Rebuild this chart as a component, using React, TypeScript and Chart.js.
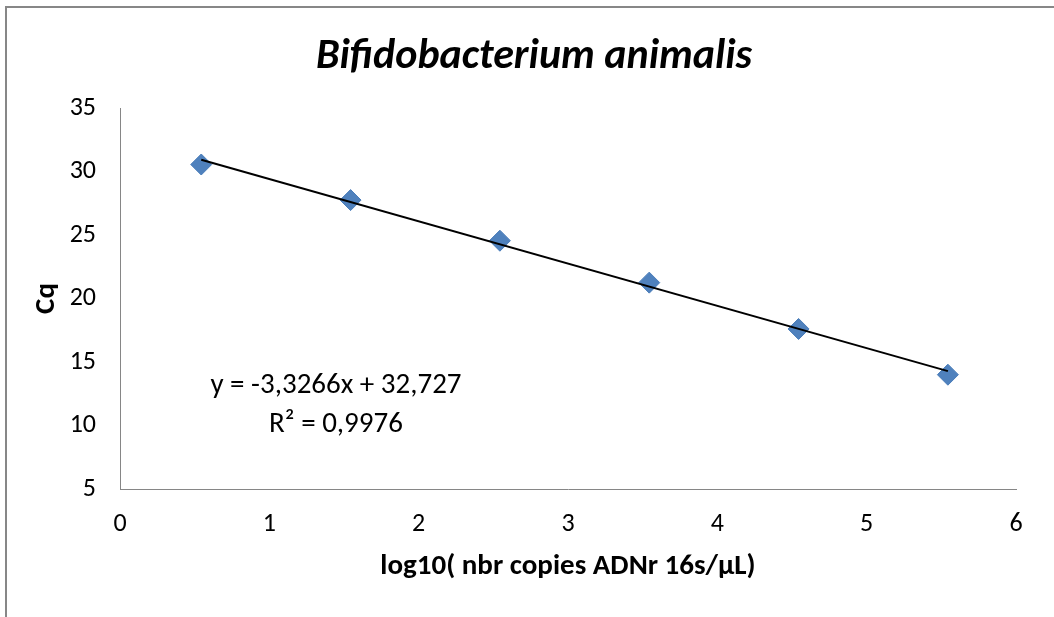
import React, { useEffect, useRef } from "react";
import { Chart, registerables } from "chart.js";

Chart.register(...registerables);

const CHART_TITLE = "Bifidobacterium animalis";
const X_TITLE = "log10( nbr copies ADNr 16s/µL)";
const Y_TITLE = "Cq";
const X_VALUES = [0.544, 1.544, 2.544, 3.544, 4.544, 5.544];
const CQ_VALUES = [30.55, 27.75, 24.55, 21.25, 17.6, 14.0];
const TREND_X = [0.544, 5.544];
const TREND_Y = [30.92, 14.28];
const EQUATION_LINES = ["y = -3,3266x + 32,727", "R² = 0,9976"];
const X_MIN = 0;
const X_MAX = 6;
const Y_MIN = 5;
const Y_MAX = 35;

const FONT = "Carlito, Lato, 'Open Sans', sans-serif";

const framePlugin = {
  id: "frame",
  beforeDraw(chart: any) {
    const ctx = chart.ctx;
    ctx.save();
    ctx.fillStyle = "#ffffff";
    ctx.fillRect(0, 0, chart.width, chart.height);
    ctx.strokeStyle = "#878787";
    ctx.lineWidth = 2;
    ctx.beginPath();
    ctx.moveTo(6, chart.height);
    ctx.lineTo(6, 7);
    ctx.lineTo(chart.width, 7);
    ctx.stroke();
    ctx.restore();
  },
  afterDraw(chart: any) {
    const ctx = chart.ctx;
    ctx.save();
    ctx.fillStyle = "#000000";
    ctx.textAlign = "center";
    ctx.textBaseline = "alphabetic";
    ctx.font = `italic bold 42px ${FONT}`;
    ctx.fillText(CHART_TITLE, 534, 68);
    ctx.font = `29px ${FONT}`;
    ctx.fillText(EQUATION_LINES[0], 336, 393);
    ctx.fillText(EQUATION_LINES[1], 336, 432);
    ctx.restore();
  },
};

export default function App() {
  const ref = useRef<HTMLCanvasElement | null>(null);
  useEffect(() => {
    if (!ref.current) return;
    const chart = new Chart(ref.current, {
      type: "scatter",
      data: {
        datasets: [
          {
            type: "line",
            label: "Trend",
            data: TREND_X.map((x, i) => ({ x, y: TREND_Y[i] })),
            borderColor: "#000000",
            borderWidth: 2,
            pointRadius: 0,
            showLine: true,
            fill: false,
          } as any,
          {
            label: "Cq",
            data: X_VALUES.map((x, i) => ({ x, y: CQ_VALUES[i] })),
            pointStyle: "rectRot",
            pointRadius: 10.5,
            backgroundColor: "#4F81BD",
            borderColor: "#4A7DBA",
            borderWidth: 1,
          },
        ],
      },
      options: {
        responsive: false,
        animation: false,
        devicePixelRatio: 1,
        layout: { padding: { top: 108, right: 38, left: 0, bottom: 0 } },
        plugins: {
          legend: { display: false },
          tooltip: { enabled: false },
          title: { display: false },
        },
        scales: {
          x: {
            type: "linear",
            min: X_MIN,
            max: X_MAX,
            grid: { display: false, drawTicks: false },
            border: { display: true, color: "#868686", width: 1 },
            ticks: {
              stepSize: 1,
              color: "#000000",
              padding: 20,
              font: { family: FONT, size: 26 },
            },
            title: {
              display: true,
              text: X_TITLE,
              color: "#000000",
              font: { family: FONT, size: 29, weight: "bold" },
              padding: { top: 0, bottom: 33 },
            },
            afterFit(scale: any) {
              scale.height = 128;
            },
          },
          y: {
            type: "linear",
            min: Y_MIN,
            max: Y_MAX,
            grid: { display: false, drawTicks: false },
            border: { display: true, color: "#868686", width: 1 },
            ticks: {
              stepSize: 5,
              color: "#000000",
              padding: 24,
              font: { family: FONT, size: 26 },
            },
            title: {
              display: true,
              text: Y_TITLE,
              color: "#000000",
              font: { family: FONT, size: 29, weight: "bold" },
              padding: { top: 29, bottom: 0 },
            },
            afterFit(scale: any) {
              scale.width = 120;
            },
          },
        },
      },
      plugins: [framePlugin],
    });
    return () => chart.destroy();
  }, []);
  return (
    <div style={{ width: 1054, height: 617 }}>
      <style>{"body{margin:0;}"}</style>
      <canvas ref={ref} width={1054} height={617} style={{ display: "block" }} />
    </div>
  );
}
